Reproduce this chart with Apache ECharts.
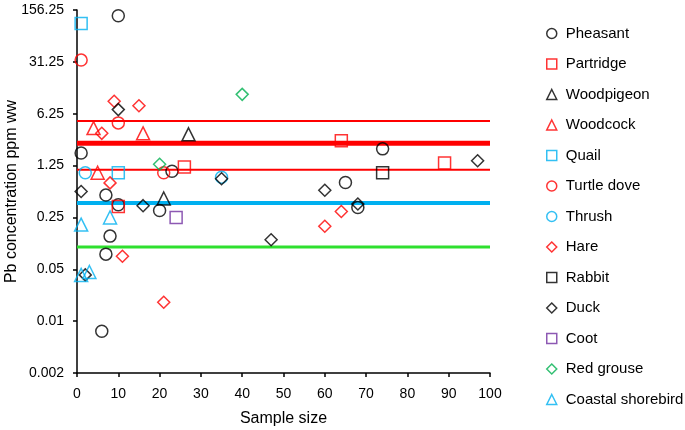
<!DOCTYPE html>
<html>
<head>
<meta charset="utf-8">
<script src="https://cdn.jsdelivr.net/npm/echarts@6/dist/echarts.min.js"></script>
<style>html,body{margin:0;padding:0;background:#fff;}#c{width:685px;height:430px;}</style>
</head>
<body>
<div id="c"></div>
<script>
// ---- data ----
var yTickLabels = ['0.002', '0.01', '0.05', '0.25', '1.25', '6.25', '31.25', '156.25'];
var xTicks = [0, 100];
var seriesNames = ['Pheasant', 'Partridge', 'Woodpigeon', 'Woodcock', 'Quail', 'Turtle dove', 'Thrush', 'Hare', 'Rabbit', 'Duck', 'Coot', 'Red grouse', 'Coastal shorebird'];

var pheasant = [[10, 131], [1, 1.85], [23, 1.05], [7, 0.5], [10, 0.37], [20, 0.31], [8, 0.14], [7, 0.08], [6, 0.0073], [74, 2.1], [65, 0.74], [68, 0.34]];
var partridge = [[26, 1.2], [10, 0.35], [64, 2.7], [89, 1.35]];
var woodpigeon = [[27, 3.3], [21, 0.45]];
var woodcock = [[4, 4.0], [16, 3.4], [5, 1.0]];
var quail = [[1, 103], [10, 1.0]];
var turtleDove = [[1, 33], [10, 4.7], [21, 1.0]];
var thrush = [[2, 1.0], [35, 0.87]];
var hare = [[9, 9.2], [15, 8.0], [6, 3.4], [8, 0.73], [11, 0.075], [21, 0.018], [64, 0.3], [60, 0.19]];
var rabbit = [[74, 1.0]];
var duck = [[10, 7.1], [1, 0.56], [16, 0.36], [2, 0.042], [35, 0.83], [60, 0.58], [68, 0.38], [47, 0.125], [97, 1.45]];
var coot = [[24, 0.25]];
var redGrouse = [[20, 1.3], [40, 11.4]];
var coastalShorebird = [[8, 0.25], [1, 0.2], [1, 0.042], [3, 0.046]];

var refLevels = [5, 2.5, 1.1, 0.39, 0.1];

// ---- styles ----
var seriesData = [pheasant, partridge, woodpigeon, woodcock, quail, turtleDove, thrush, hare, rabbit, duck, coot, redGrouse, coastalShorebird];
var seriesSymbols = ['circle', 'rect', 'triangle', 'triangle', 'rect', 'circle', 'circle', 'diamond', 'rect', 'diamond', 'rect', 'diamond', 'triangle'];
var seriesColors = ['#000000', '#ff0000', '#000000', '#ff0000', '#00b0f0', '#ff0000', '#00b0f0', '#ff0000', '#000000', '#000000', '#7030a0', '#00b050', '#00b0f0'];
var refColors = ['#ff0000', '#ff0000', '#ff0000', '#00b0f0', '#2ee02e'];
var refWidths = [2, 5, 2, 4, 3];

var Y0 = 0.002;
function ty(v) { return Math.log(v / Y0) / Math.log(5); }

var series = [];
refLevels.forEach(function (lv, i) {
  series.push({
    type: 'line', silent: true, symbol: 'none', z: 1,
    data: [[xTicks[0], ty(lv)], [xTicks[1], ty(lv)]],
    lineStyle: { color: refColors[i], width: refWidths[i] }
  });
});
seriesNames.forEach(function (name, i) {
  series.push({
    name: name, type: 'scatter', z: 3,
    symbol: seriesSymbols[i],
    symbolSize: seriesSymbols[i] === 'triangle' ? 13 : 12,
    data: seriesData[i].map(function (p) { return [p[0], ty(p[1])]; }),
    itemStyle: { color: 'rgba(0,0,0,0)', borderColor: seriesColors[i], borderWidth: 1.5 }
  });
});

var chart = echarts.init(document.getElementById('c'));
chart.setOption({
  animation: false,
  textStyle: { fontFamily: 'Liberation Sans, Arial, sans-serif' },
  grid: { left: 77, right: 195, top: 10, bottom: 57, containLabel: false, outerBoundsMode: 'none' },
  legend: {
    orient: 'vertical', left: 541, top: 21, height: 420,
    itemWidth: 10, itemHeight: 10, itemGap: 15.5,
    textStyle: { fontSize: 15, color: '#000', padding: [0, 0, 0, 4] },
    data: seriesNames.map(function (n, i) {
      return { name: n, icon: seriesSymbols[i], itemStyle: { color: 'rgba(0,0,0,0)', borderColor: seriesColors[i], borderWidth: 1.5 } };
    })
  },
  xAxis: {
    type: 'value', min: 0, max: 100, interval: 10,
    name: 'Sample size', nameLocation: 'middle', nameGap: 38, nameMoveOverlap: false,
    nameTextStyle: { fontSize: 16, color: '#000' },
    axisLine: { lineStyle: { color: '#000', width: 1.5 } },
    axisTick: { show: true, length: 4, lineStyle: { color: '#000', width: 1.5 } },
    axisLabel: { fontSize: 14, color: '#000', margin: 14 },
    splitLine: { show: false }
  },
  yAxis: {
    type: 'value', min: 0, max: 7, interval: 1,
    name: 'Pb concentration ppm ww', nameLocation: 'middle', nameGap: 57, nameMoveOverlap: false,
    nameTextStyle: { fontSize: 16, color: '#000' },
    axisLine: { show: true, lineStyle: { color: '#000', width: 1.5 } },
    axisTick: { show: true, length: 4, lineStyle: { color: '#000', width: 1.5 } },
    axisLabel: { fontSize: 14, color: '#000', margin: 13, formatter: function (v) { return yTickLabels[Math.round(v)]; } },
    splitLine: { show: false }
  },
  series: series
});
</script>
</body>
</html>
